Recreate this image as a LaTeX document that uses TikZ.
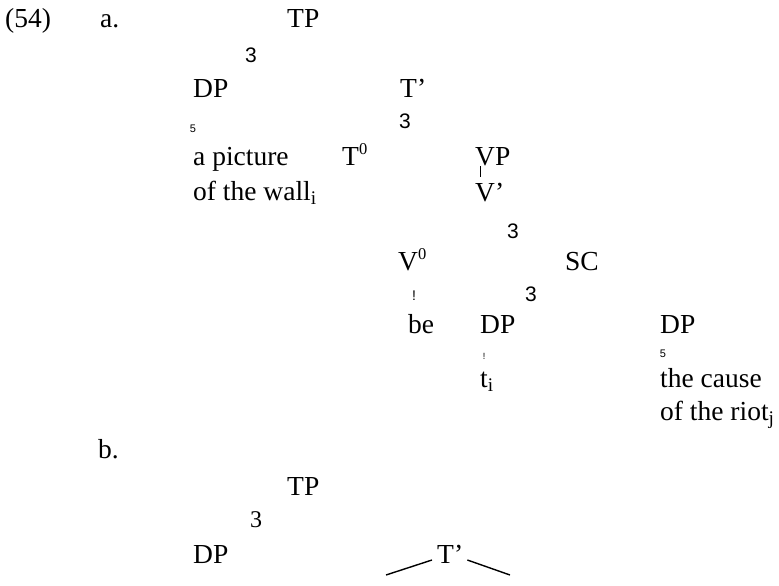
\documentclass[tikz,border=0pt]{standalone}
\usepackage{fontspec}
\setmainfont{Liberation Serif}
\newfontfamily\arbfont{Liberation Sans}
% raised bar-level index on a head label
\newcommand\barlevel[1]{\raisebox{11pt}{\fontsize{16.5}{17}\selectfont #1}}
\begin{document}
\begin{tikzpicture}[x=1pt,y=-1pt,
  lbl/.style={anchor=base west, inner sep=0pt, font=\fontsize{27.5}{30}\selectfont},
  brA/.style={anchor=center, inner sep=0pt, font=\arbfont\fontsize{21}{24}\selectfont},
  brS/.style={anchor=center, inner sep=0pt, font=\arbfont\fontsize{11}{13}\selectfont},
  brX/.style={anchor=center, inner sep=0pt, font=\arbfont\fontsize{14}{16}\selectfont},
  brXs/.style={anchor=center, inner sep=0pt, font=\arbfont\fontsize{9}{11}\selectfont},
  brB/.style={anchor=center, inner sep=0pt, font=\fontsize{24}{26}\selectfont},
  edge/.style={line width=1.4pt}]
\useasboundingbox (0,0) rectangle (779,586);

% (54a)
\node[lbl] (n54) at (5,28) {(54)};
\node[lbl] (la) at (100,28) {a.};
\node[lbl] (tp) at (287,28) {TP};
\node[brA] (b1) at (251,55) {3};
\node[lbl] (dp) at (193,97) {DP};
\node[lbl] (tbar) at (400,97) {T’};
\node[brS] (b2) at (193,129) {5};
\node[brA] (b3) at (405,121) {3};
\node[lbl] (pic1) at (193,165) {a picture};
\node[lbl] (pic2) at (193,200) {of the wall\textsubscript{i}};
\node[lbl] (t0) at (342,165) {T\barlevel{0}};
\node[lbl] (vp) at (475,165) {VP};
\node[lbl] (vbar) at (475,201) {V’};
\coordinate (vptop) at (480,166);
\coordinate (vpbot) at (480,177);
\draw[line width=1pt] (vptop) -- (vpbot);
\node[brA] (b4) at (513,231) {3};
\node[lbl] (v0) at (398,270) {V\barlevel{0}};
\node[lbl] (sc) at (565,270) {SC};
\node[brX] (b5) at (414,296) {!};
\node[brA] (b6) at (531,294) {3};
\node[lbl] (be) at (408,333) {be};
\node[lbl] (dpt) at (480,333) {DP};
\node[lbl] (dpc) at (660,333) {DP};
\node[brXs] (b7) at (484,356) {!};
\node[brS] (b8) at (663,354) {5};
\node[lbl] (ti) at (480,387) {t\textsubscript{i}};
\node[lbl] (cause1) at (660,387) {the cause};
\node[lbl] (cause2) at (660,420) {of the riot\textsubscript{j}};

% (54b)
\node[lbl] (lb) at (98,458) {b.};
\node[lbl] (tpb) at (287,495) {TP};
\node[brB] (b9) at (256,520) {3};
\node[lbl] (dpb) at (193,563) {DP};
\node[lbl] (tb) at (437,563) {T’};
\coordinate (tbl) at (386,575);
\coordinate (tbr) at (510,575);
\draw[edge] ([shift={(-5,-3)}]tb.base west) -- (tbl);
\draw[edge] ([shift={(4,-3)}]tb.base east) -- (tbr);
\end{tikzpicture}
\end{document}
